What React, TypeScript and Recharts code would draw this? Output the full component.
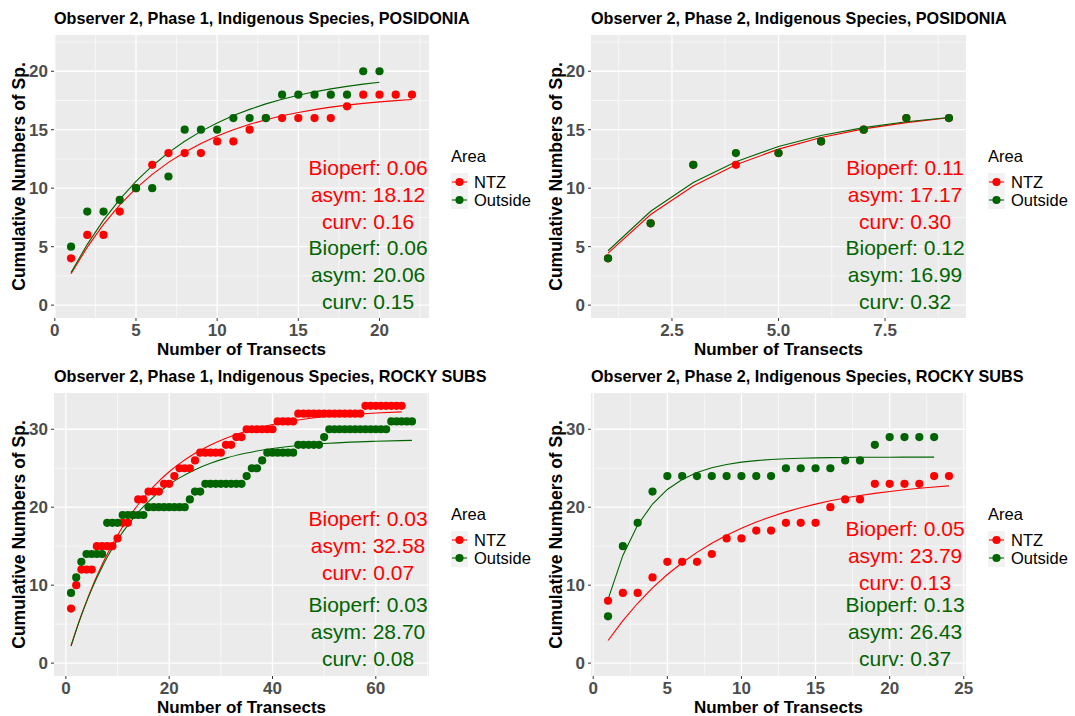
import React from 'react';
import { ComposedChart, Scatter, Line, XAxis, YAxis, CartesianGrid, ReferenceDot, Label } from 'recharts';

const FONT = '"Liberation Sans", Arial, Helvetica, sans-serif';
const RED = '#FF0000';
const GREEN = '#006400';
const areaNames = ['NTZ', 'Outside'];
const areaColors = [RED, GREEN];

// ---------- Panel 1: Phase 1, POSIDONIA ----------
const p1NtzTransects = [1, 2, 3, 4, 5, 6, 7, 8, 9, 10, 11, 12, 13, 14, 15, 16, 17, 18, 19, 20, 21, 22];
const p1NtzSpecies = [4, 6, 6, 8, 10, 12, 13, 13, 13, 14, 14, 15, 16, 16, 16, 16, 16, 17, 18, 18, 18, 18];
const p1NtzFitted = [2.68, 4.96, 6.91, 8.57, 9.98, 11.18, 12.21, 13.08, 13.83, 14.46, 15.0, 15.46, 15.86, 16.19, 16.48, 16.72, 16.93, 17.1, 17.25, 17.38, 17.49, 17.58];
const p1OutTransects = [1, 2, 3, 4, 5, 6, 7, 8, 9, 10, 11, 12, 13, 14, 15, 16, 17, 18, 19, 20];
const p1OutSpecies = [5, 8, 8, 9, 10, 10, 11, 15, 15, 15, 16, 16, 16, 18, 18, 18, 18, 18, 20, 20];
const p1OutFitted = [2.79, 5.2, 7.27, 9.05, 10.58, 11.9, 13.04, 14.02, 14.86, 15.58, 16.21, 16.74, 17.21, 17.6, 17.95, 18.24, 18.49, 18.71, 18.9, 19.06];
const p1NtzStats = ['Bioperf: 0.06', 'asym: 18.12', 'curv: 0.16'];
const p1OutStats = ['Bioperf: 0.06', 'asym: 20.06', 'curv: 0.15'];

// ---------- Panel 2: Phase 2, POSIDONIA ----------
const p2Transects = [1, 2, 3, 4, 5, 6, 7, 8, 9];
const p2NtzSpecies = [4, 7, 12, 12, 13, 14, 15, 16, 16];
const p2NtzFitted = [4.45, 7.75, 10.19, 12.0, 13.34, 14.33, 15.07, 15.61, 16.02];
const p2OutSpecies = [4, 7, 12, 13, 13, 14, 15, 16, 16];
const p2OutFitted = [4.65, 8.03, 10.48, 12.27, 13.56, 14.5, 15.18, 15.68, 16.04];
const p2NtzStats = ['Bioperf: 0.11', 'asym: 17.17', 'curv: 0.30'];
const p2OutStats = ['Bioperf: 0.12', 'asym: 16.99', 'curv: 0.32'];

// ---------- Panel 3: Phase 1, ROCKY SUBS ----------
const p3NtzTransects = [
  1, 2, 3, 4, 5, 6, 7, 8, 9, 10, 11, 12, 13, 14, 15, 16, 17, 18, 19, 20,
  21, 22, 23, 24, 25, 26, 27, 28, 29, 30, 31, 32, 33, 34, 35, 36, 37, 38, 39, 40,
  41, 42, 43, 44, 45, 46, 47, 48, 49, 50, 51, 52, 53, 54, 55, 56, 57, 58, 59, 60,
  61, 62, 63, 64, 65,
];
const p3NtzSpecies = [
  7, 10, 12, 12, 12, 15, 15, 15, 15, 16,
  18, 18, 19, 21, 21, 22, 22, 22, 23, 23,
  24, 25, 25, 25, 26, 27, 27, 27, 27, 27,
  28, 28, 29, 29, 30, 30, 30, 30, 30, 30,
  31, 31, 31, 31, 32, 32, 32, 32, 32, 32,
  32, 32, 32, 32, 32, 32, 32, 33, 33, 33,
  33, 33, 33, 33, 33,
];
const p3NtzFitTransects = [1, 2, 3, 4, 5, 6, 7, 8, 10, 12, 14, 16, 18, 20, 22, 25, 28, 31, 35, 40, 45, 50, 55, 60, 65];
const p3NtzFitted = [2.2, 4.25, 6.17, 7.96, 9.62, 11.17, 12.62, 13.97, 16.4, 18.52, 20.35, 21.95, 23.34, 24.55, 25.59, 26.92, 27.99, 28.86, 29.77, 30.6, 31.18, 31.6, 31.89, 32.09, 32.23];
const p3OutTransects = [
  1, 2, 3, 4, 5, 6, 7, 8, 9, 10, 11, 12, 13, 14, 15, 16, 17, 18, 19, 20,
  21, 22, 23, 24, 25, 26, 27, 28, 29, 30, 31, 32, 33, 34, 35, 36, 37, 38, 39, 40,
  41, 42, 43, 44, 45, 46, 47, 48, 49, 50, 51, 52, 53, 54, 55, 56, 57, 58, 59, 60,
  61, 62, 63, 64, 65, 66, 67,
];
const p3OutSpecies = [
  9, 11, 13, 14, 14, 14, 14, 18, 18, 18,
  19, 19, 19, 19, 19, 20, 20, 20, 20, 20,
  20, 20, 20, 21, 22, 22, 23, 23, 23, 23,
  23, 23, 23, 23, 24, 25, 25, 26, 27, 27,
  27, 27, 27, 27, 28, 28, 28, 28, 28, 29,
  30, 30, 30, 30, 30, 30, 30, 30, 30, 30,
  30, 30, 31, 31, 31, 31, 31,
];
const p3OutFitTransects = [1, 2, 3, 4, 5, 6, 7, 8, 10, 12, 14, 16, 18, 20, 22, 25, 28, 31, 35, 40, 45, 50, 55, 60, 67];
const p3OutFitted = [2.21, 4.24, 6.12, 7.86, 9.46, 10.94, 12.31, 13.57, 15.81, 17.71, 19.34, 20.72, 21.9, 22.91, 23.76, 24.82, 25.64, 26.3, 26.95, 27.53, 27.92, 28.17, 28.35, 28.46, 28.57];
const p3NtzStats = ['Bioperf: 0.03', 'asym: 32.58', 'curv: 0.07'];
const p3OutStats = ['Bioperf: 0.03', 'asym: 28.70', 'curv: 0.08'];

// ---------- Panel 4: Phase 2, ROCKY SUBS ----------
const p4NtzTransects = [1, 2, 3, 4, 5, 6, 7, 8, 9, 10, 11, 12, 13, 14, 15, 16, 17, 18, 19, 20, 21, 22, 23, 24];
const p4NtzSpecies = [8, 9, 9, 11, 13, 13, 13, 14, 16, 16, 17, 17, 18, 18, 18, 20, 21, 21, 23, 23, 23, 23, 24, 24];
const p4NtzFitted = [2.9, 5.45, 7.68, 9.65, 11.37, 12.88, 14.21, 15.38, 16.41, 17.31, 18.1, 18.79, 19.4, 19.94, 20.4, 20.82, 21.18, 21.5, 21.78, 22.02, 22.24, 22.43, 22.59, 22.74];
const p4OutTransects = [1, 2, 3, 4, 5, 6, 7, 8, 9, 10, 11, 12, 13, 14, 15, 16, 17, 18, 19, 20, 21, 22, 23];
const p4OutSpecies = [6, 15, 18, 22, 24, 24, 24, 24, 24, 24, 24, 24, 25, 25, 25, 25, 26, 26, 28, 29, 29, 29, 29];
const p4OutFitted = [8.17, 13.82, 17.72, 20.41, 22.28, 23.56, 24.45, 25.06, 25.48, 25.78, 25.98, 26.12, 26.21, 26.28, 26.33, 26.36, 26.38, 26.4, 26.41, 26.41, 26.42, 26.42, 26.42];
const p4NtzStats = ['Bioperf: 0.05', 'asym: 23.79', 'curv: 0.13'];
const p4OutStats = ['Bioperf: 0.13', 'asym: 26.43', 'curv: 0.37'];

// ---------- Axis ticks ----------
const p1XTicks = [0, 5, 10, 15, 20];
const p1XMinor = [2.5, 7.5, 12.5, 17.5, 22.5];
const p2XTicks = [2.5, 5.0, 7.5];
const p2XMinor = [1.25, 3.75, 6.25, 8.75];
const p3XTicks = [0, 20, 40, 60];
const p3XMinor = [10, 30, 50, 70];
const p4XTicks = [0, 5, 10, 15, 20, 25];
const p4XMinor = [2.5, 7.5, 12.5, 17.5, 22.5];
const topYTicks = [0, 5, 10, 15, 20];
const topYMinor = [2.5, 7.5, 12.5, 17.5, 22.5];
const bottomYTicks = [0, 10, 20, 30];
const bottomYMinor = [5, 15, 25];

type Pt = { x: number; y: number };
const toPts = (xs: number[], ys: number[]): Pt[] => xs.map((x, i) => ({ x, y: ys[i] }));

const W = 537;
const H = 358;
const PLOT_LEFT = 54;
const PLOT_RIGHT_MARGIN = 108;
const PLOT_TOP = 35;
const XAXIS_H = 40;
const DOT_R = 4.1;

const makeDot = (color: string) => (props: any) => {
  if (props.cx == null || props.cy == null) return <g />;
  return <circle cx={props.cx} cy={props.cy} r={DOT_R} fill={color} />;
};

const statsLabel = (lines: string[], color: string) => (props: any) => {
  const vb = props.viewBox || {};
  const cx = (vb.x || 0) + (vb.width || 0) / 2;
  const cy = (vb.y || 0) + (vb.height || 0) / 2;
  return (
    <text textAnchor="middle" fill={color} fontSize={21} fontFamily={FONT}>
      {lines.map((l, i) => (
        <tspan key={i} x={cx} y={cy + (i - 1) * 27 + 7.5}>
          {l}
        </tspan>
      ))}
    </text>
  );
};

const yTitle = (props: any) => {
  const vb = props.viewBox || {};
  const cy = (vb.y || 0) + (vb.height || 0) / 2;
  return (
    <text
      x={19}
      y={cy}
      transform={`rotate(-90, 19, ${cy})`}
      textAnchor="middle"
      dominantBaseline="central"
      fontSize={17.5}
      fontWeight="bold"
      fontFamily={FONT}
      fill="#000000"
    >
      Cumulative Numbers of Sp.
    </text>
  );
};

const xTitle = (props: any) => {
  const vb = props.viewBox || {};
  const cx = (vb.x || 0) + (vb.width || 0) / 2;
  const y = (vb.y || 0) + 37;
  return (
    <text x={cx} y={y} textAnchor="middle" fontSize={17} fontWeight="bold" fontFamily={FONT} fill="#000000">
      Number of Transects
    </text>
  );
};

function AreaLegend() {
  return (
    <svg style={{ position: 'absolute', left: 451, top: 143 }} width={90} height={70}>
      <text x={0} y={19} fontSize={16.5} fontFamily={FONT} fill="#000000">
        Area
      </text>
      {areaNames.map((name, i) => {
        const cy = 39 + i * 18;
        return (
          <g key={name}>
            <rect x={0} y={cy - 9} width={17} height={18} fill="#F2F2F2" />
            <line x1={1} x2={16} y1={cy} y2={cy} stroke={areaColors[i]} strokeWidth={1.1} />
            <circle cx={8.5} cy={cy} r={DOT_R} fill={areaColors[i]} />
            <text x={23} y={cy + 6} fontSize={16.5} fontFamily={FONT} fill="#000000">
              {name}
            </text>
          </g>
        );
      })}
    </svg>
  );
}

type PanelProps = {
  left: number;
  top: number;
  title: string;
  ntz: Pt[];
  out: Pt[];
  ntzFit: Pt[];
  outFit: Pt[];
  xDomain: [number, number];
  yDomain: [number, number];
  xTicks: number[];
  xMinor: number[];
  yTicks: number[];
  yMinor: number[];
  xFormat?: (v: number) => string;
  ntzStats: string[];
  outStats: string[];
  statsX: number;
  ntzStatsY: number;
  outStatsY: number;
  curve: 'linear' | 'monotone';
};

function Panel(p: PanelProps) {
  const tickStyle = { fill: '#4D4D4D', fontSize: 17, fontWeight: 'bold', fontFamily: FONT };
  return (
    <div style={{ position: 'absolute', left: p.left, top: p.top, width: W, height: H }}>
      <div
        style={{
          position: 'absolute',
          left: PLOT_LEFT,
          top: 8,
          fontFamily: FONT,
          fontWeight: 'bold',
          fontSize: 16.2,
          lineHeight: '20px',
          whiteSpace: 'nowrap',
          color: '#000000',
        }}
      >
        {p.title}
      </div>
      <ComposedChart width={W} height={H} margin={{ top: PLOT_TOP, right: PLOT_RIGHT_MARGIN, bottom: 0, left: 0 }}>
        <CartesianGrid
          horizontalValues={p.yMinor}
          verticalValues={p.xMinor}
          fill="#EBEBEB"
          stroke="#FFFFFF"
          strokeWidth={0.6}
        />
        <CartesianGrid horizontalValues={p.yTicks} verticalValues={p.xTicks} stroke="#FFFFFF" strokeWidth={1.3} />
        <XAxis
          type="number"
          dataKey="x"
          domain={p.xDomain}
          ticks={p.xTicks}
          interval={0}
          allowDataOverflow
          height={XAXIS_H}
          axisLine={false}
          tickLine={{ stroke: '#333333' }}
          tickSize={3}
          tickMargin={3}
          tick={tickStyle}
          tickFormatter={p.xFormat}
        >
          <Label content={xTitle} />
        </XAxis>
        <YAxis
          type="number"
          dataKey="y"
          domain={p.yDomain}
          ticks={p.yTicks}
          interval={0}
          allowDataOverflow
          width={PLOT_LEFT}
          axisLine={false}
          tickLine={{ stroke: '#333333' }}
          tickSize={3}
          tickMargin={3}
          tick={tickStyle}
        >
          <Label content={yTitle} />
        </YAxis>
        <Scatter name="NTZ" data={p.ntz} dataKey="y" fill={RED} shape={makeDot(RED)} isAnimationActive={false} />
        <Scatter name="Outside" data={p.out} dataKey="y" fill={GREEN} shape={makeDot(GREEN)} isAnimationActive={false} />
        <Line
          data={p.ntzFit}
          dataKey="y"
          type={p.curve}
          stroke={RED}
          strokeWidth={1.1}
          dot={false}
          activeDot={false}
          isAnimationActive={false}
        />
        <Line
          data={p.outFit}
          dataKey="y"
          type={p.curve}
          stroke={GREEN}
          strokeWidth={1.1}
          dot={false}
          activeDot={false}
          isAnimationActive={false}
        />
        <ReferenceDot x={p.statsX} y={p.ntzStatsY} r={0} fill="none" stroke="none" label={statsLabel(p.ntzStats, RED)} />
        <ReferenceDot x={p.statsX} y={p.outStatsY} r={0} fill="none" stroke="none" label={statsLabel(p.outStats, GREEN)} />
      </ComposedChart>
      <AreaLegend />
    </div>
  );
}

export default function App() {
  return (
    <div style={{ position: 'absolute', left: 0, top: 0, width: 1075, height: 716, background: '#FFFFFF' }}>
      <Panel
        left={0}
        top={0}
        title="Observer 2, Phase 1, Indigenous Species, POSIDONIA"
        ntz={toPts(p1NtzTransects, p1NtzSpecies)}
        out={toPts(p1OutTransects, p1OutSpecies)}
        ntzFit={toPts(p1NtzTransects, p1NtzFitted)}
        outFit={toPts(p1OutTransects, p1OutFitted)}
        xDomain={[-0.05, 23.05]}
        yDomain={[-1.1, 23.1]}
        xTicks={p1XTicks}
        xMinor={p1XMinor}
        yTicks={topYTicks}
        yMinor={topYMinor}
        ntzStats={p1NtzStats}
        outStats={p1OutStats}
        statsX={19.3}
        ntzStatsY={9.42}
        outStatsY={2.58}
        curve="linear"
      />
      <Panel
        left={537}
        top={0}
        title="Observer 2, Phase 2, Indigenous Species, POSIDONIA"
        ntz={toPts(p2Transects, p2NtzSpecies)}
        out={toPts(p2Transects, p2OutSpecies)}
        ntzFit={toPts(p2Transects, p2NtzFitted)}
        outFit={toPts(p2Transects, p2OutFitted)}
        xDomain={[0.6, 9.4]}
        yDomain={[-1.1, 23.1]}
        xTicks={p2XTicks}
        xMinor={p2XMinor}
        yTicks={topYTicks}
        yMinor={topYMinor}
        xFormat={(v: number) => v.toFixed(1)}
        ntzStats={p2NtzStats}
        outStats={p2OutStats}
        statsX={7.97}
        ntzStatsY={9.42}
        outStatsY={2.58}
        curve="linear"
      />
      <Panel
        left={0}
        top={358}
        title="Observer 2, Phase 1, Indigenous Species, ROCKY SUBS"
        ntz={toPts(p3NtzTransects, p3NtzSpecies)}
        out={toPts(p3OutTransects, p3OutSpecies)}
        ntzFit={toPts(p3NtzFitTransects, p3NtzFitted)}
        outFit={toPts(p3OutFitTransects, p3OutFitted)}
        xDomain={[-2.3, 70.3]}
        yDomain={[-1.65, 34.65]}
        xTicks={p3XTicks}
        xMinor={p3XMinor}
        yTicks={bottomYTicks}
        yMinor={bottomYMinor}
        ntzStats={p3NtzStats}
        outStats={p3OutStats}
        statsX={58.5}
        ntzStatsY={15.15}
        outStatsY={4.12}
        curve="monotone"
      />
      <Panel
        left={537}
        top={358}
        title="Observer 2, Phase 2, Indigenous Species, ROCKY SUBS"
        ntz={toPts(p4NtzTransects, p4NtzSpecies)}
        out={toPts(p4OutTransects, p4OutSpecies)}
        ntzFit={toPts(p4NtzTransects, p4NtzFitted)}
        outFit={toPts(p4OutTransects, p4OutFitted)}
        xDomain={[-0.15, 25.15]}
        yDomain={[-1.65, 34.65]}
        xTicks={p4XTicks}
        xMinor={p4XMinor}
        yTicks={bottomYTicks}
        yMinor={bottomYMinor}
        ntzStats={p4NtzStats}
        outStats={p4OutStats}
        statsX={21.04}
        ntzStatsY={13.87}
        outStatsY={4.12}
        curve="linear"
      />
    </div>
  );
}
